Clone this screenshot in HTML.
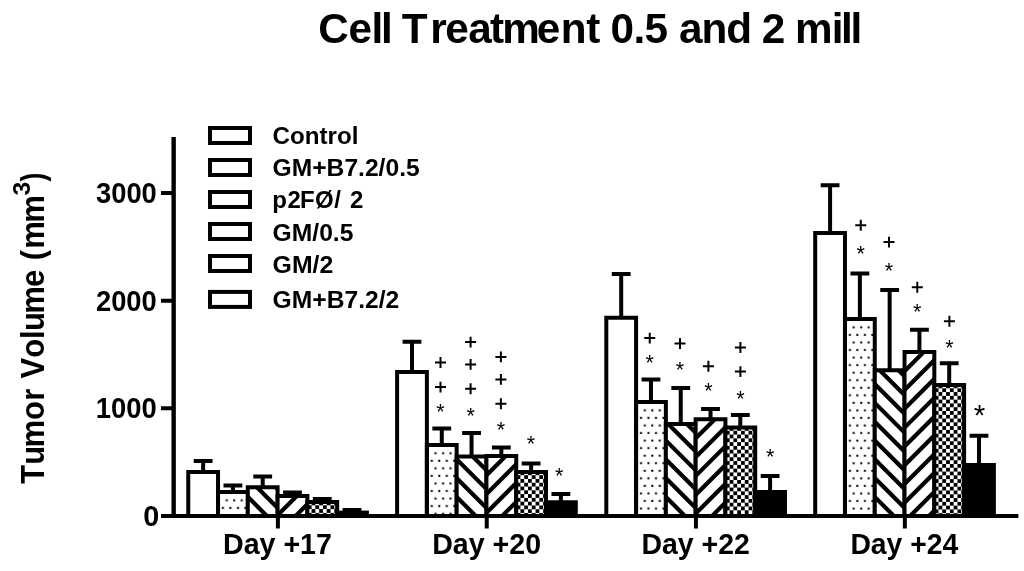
<!DOCTYPE html>
<html><head><meta charset="utf-8"><title>Cell Treatment 0.5 and 2 mill</title>
<style>
html,body{margin:0;padding:0;background:#fff;}
body{width:1024px;height:571px;overflow:hidden;}
svg{display:block;filter:grayscale(1);}
text{font-family:"Liberation Sans",sans-serif;fill:#000;font-kerning:none;white-space:pre;}
.b{font-weight:bold;}
</style></head><body>
<svg width="1024" height="571" viewBox="0 0 1024 571">
<rect x="0" y="0" width="1024" height="571" fill="#fff"/>
<defs><pattern id="d0" x="218.03" y="492" width="7.5" height="15.1" patternUnits="userSpaceOnUse"><rect width="7.5" height="15.1" fill="#fff"/><rect x="3.9" y="-0.2" width="2" height="2" fill="#000"/><rect x="3.9" y="14.9" width="2" height="2" fill="#000"/><rect x="0.2" y="7.35" width="2" height="2" fill="#000"/></pattern><clipPath id="k1"><rect x="248.81" y="488.25" width="27.78" height="27.75"/></clipPath><clipPath id="k2"><rect x="278.59" y="497" width="27.78" height="19"/></clipPath><pattern id="c0" x="311.57" y="505.3" width="7.57" height="7.57" patternUnits="userSpaceOnUse"><rect width="7.57" height="7.57" fill="#fff"/><rect x="3.785" y="0" width="3.785" height="3.785" fill="#000"/><rect x="0" y="3.785" width="3.785" height="3.785" fill="#000"/></pattern><pattern id="d1" x="426.88" y="444.9" width="7.5" height="15.1" patternUnits="userSpaceOnUse"><rect width="7.5" height="15.1" fill="#fff"/><rect x="3.9" y="-0.2" width="2" height="2" fill="#000"/><rect x="3.9" y="14.9" width="2" height="2" fill="#000"/><rect x="0.2" y="7.35" width="2" height="2" fill="#000"/></pattern><clipPath id="k3"><rect x="457.66" y="457.6" width="27.78" height="58.4"/></clipPath><clipPath id="k4"><rect x="487.44" y="457.1" width="27.78" height="58.9"/></clipPath><pattern id="c1" x="520.42" y="475.2" width="7.57" height="7.57" patternUnits="userSpaceOnUse"><rect width="7.57" height="7.57" fill="#fff"/><rect x="3.785" y="0" width="3.785" height="3.785" fill="#000"/><rect x="0" y="3.785" width="3.785" height="3.785" fill="#000"/></pattern><pattern id="d2" x="636.08" y="402" width="7.5" height="15.1" patternUnits="userSpaceOnUse"><rect width="7.5" height="15.1" fill="#fff"/><rect x="3.9" y="-0.2" width="2" height="2" fill="#000"/><rect x="3.9" y="14.9" width="2" height="2" fill="#000"/><rect x="0.2" y="7.35" width="2" height="2" fill="#000"/></pattern><clipPath id="k5"><rect x="666.86" y="425" width="27.78" height="91"/></clipPath><clipPath id="k6"><rect x="696.64" y="420.2" width="27.78" height="95.8"/></clipPath><pattern id="c2" x="729.62" y="430.8" width="7.57" height="7.57" patternUnits="userSpaceOnUse"><rect width="7.57" height="7.57" fill="#fff"/><rect x="3.785" y="0" width="3.785" height="3.785" fill="#000"/><rect x="0" y="3.785" width="3.785" height="3.785" fill="#000"/></pattern><pattern id="d3" x="844.98" y="319" width="7.5" height="15.1" patternUnits="userSpaceOnUse"><rect width="7.5" height="15.1" fill="#fff"/><rect x="3.9" y="-0.2" width="2" height="2" fill="#000"/><rect x="3.9" y="14.9" width="2" height="2" fill="#000"/><rect x="0.2" y="7.35" width="2" height="2" fill="#000"/></pattern><clipPath id="k7"><rect x="875.76" y="371.2" width="27.78" height="144.8"/></clipPath><clipPath id="k8"><rect x="905.54" y="353" width="27.78" height="163"/></clipPath><pattern id="c3" x="938.52" y="388.3" width="7.57" height="7.57" patternUnits="userSpaceOnUse"><rect width="7.57" height="7.57" fill="#fff"/><rect x="3.785" y="0" width="3.785" height="3.785" fill="#000"/><rect x="0" y="3.785" width="3.785" height="3.785" fill="#000"/></pattern></defs>
<text class="b" transform="translate(0 43.1) scale(1 1.0150)" font-size="42.3" x="318.27 348.6 371.45 381.05 393 401.77 430.31 445.25 468.16 490.08 502.21 536.65 560.71 586.38 600 610.58 633.53 644.5 668 679.01 701.61 726.37 750 761.63 786 795.11 831.65 841.05 850.55">Cell Treatment 0.5 and 2 mill</text>
<g transform="translate(43.5 483.5) rotate(-90)">
<text class="b" transform="translate(0 0) scale(1 1.0420)" font-size="31" x="-0.35 18.68 36.06 63.49 82.86 96 104.99 125.69 144.44 152.38 169.76 196.49 214 223.36 234.76 260.66">Tumor Volume (mm</text>
<text class="b" transform="translate(287.93 -13.3) scale(1 0.9861)" font-size="24.74">3</text>
<text class="b" transform="translate(301.97 0) scale(1 1.2414)" font-size="26.93">)</text>
</g>
<text class="b" transform="translate(95.97 202.68) scale(1 1.0725)" font-size="27.35">3000</text>
<text class="b" transform="translate(95.95 310.58) scale(1 1.0792)" font-size="27.32">2000</text>
<text class="b" transform="translate(95.77 418.42) scale(1 1.0939)" font-size="27.4">1000</text>
<text class="b" transform="translate(143.26 525.58) scale(1 1.0233)" font-size="28.81">0</text>
<path d="M193.74 461H212.54M203.14 461V472" stroke="#000" stroke-width="4" fill="none"/>
<rect x="189.25" y="473" width="27.78" height="43" fill="#fff"/>
<path d="M188.25 516V472H218.03V516" stroke="#000" stroke-width="4" fill="none" stroke-linejoin="miter"/>
<path d="M223.52 485.4H242.32M232.92 485.4V492" stroke="#000" stroke-width="4" fill="none"/>
<rect x="221.03" y="493" width="25.78" height="23" fill="url(#d0)"/>
<path d="M218.03 516V492H247.81V516" stroke="#000" stroke-width="4" fill="none" stroke-linejoin="miter"/>
<path d="M253.3 476.4H272.1M262.7 476.4V487.25" stroke="#000" stroke-width="4" fill="none"/>
<rect x="248.81" y="488.25" width="27.78" height="27.75" fill="#fff"/>
<path clip-path="url(#k1)" d="M243.81 455.3L281.59 493.08M243.81 474.1L281.59 511.88M243.81 492.9L281.59 530.68M243.81 511.7L281.59 549.48" stroke="#000" stroke-width="4.2" fill="none"/>
<path d="M247.81 516V487.25H277.59V516" stroke="#000" stroke-width="4" fill="none" stroke-linejoin="miter"/>
<path d="M283.08 492.6H301.88M292.48 492.6V496" stroke="#000" stroke-width="4" fill="none"/>
<rect x="278.59" y="497" width="27.78" height="19" fill="#fff"/>
<path clip-path="url(#k2)" d="M273.59 500.4L311.37 462.62M273.59 519.2L311.37 481.42M273.59 538L311.37 500.22M273.59 556.8L311.37 519.02" stroke="#000" stroke-width="4.2" fill="none"/>
<path d="M277.59 516V496H307.37V516" stroke="#000" stroke-width="4" fill="none" stroke-linejoin="miter"/>
<path d="M312.86 498.9H331.66M322.26 498.9V502" stroke="#000" stroke-width="4" fill="none"/>
<rect x="308.37" y="503" width="27.78" height="13" fill="url(#c0)"/>
<path d="M307.37 516V502H337.15V516" stroke="#000" stroke-width="4" fill="none" stroke-linejoin="miter"/>
<path d="M342.64 510.1H361.44M352.04 510.1V511.6" stroke="#000" stroke-width="4" fill="none"/>
<rect x="335.15" y="510.6" width="33.78" height="5.4" fill="#000"/>
<path d="M402.59 341.7H421.39M411.99 341.7V372" stroke="#000" stroke-width="4" fill="none"/>
<rect x="398.1" y="373" width="27.78" height="143" fill="#fff"/>
<path d="M397.1 516V372H426.88V516" stroke="#000" stroke-width="4" fill="none" stroke-linejoin="miter"/>
<path d="M432.37 428.4H451.17M441.77 428.4V444.9" stroke="#000" stroke-width="4" fill="none"/>
<rect x="429.88" y="445.9" width="25.78" height="70.1" fill="url(#d1)"/>
<path d="M426.88 516V444.9H456.66V516" stroke="#000" stroke-width="4" fill="none" stroke-linejoin="miter"/>
<path d="M462.15 433.1H480.95M471.55 433.1V456.6" stroke="#000" stroke-width="4" fill="none"/>
<rect x="457.66" y="457.6" width="27.78" height="58.4" fill="#fff"/>
<path clip-path="url(#k3)" d="M452.66 417.7L490.44 455.48M452.66 436.5L490.44 474.28M452.66 455.3L490.44 493.08M452.66 474.1L490.44 511.88M452.66 492.9L490.44 530.68M452.66 511.7L490.44 549.48" stroke="#000" stroke-width="4.2" fill="none"/>
<path d="M456.66 516V456.6H486.44V516" stroke="#000" stroke-width="4" fill="none" stroke-linejoin="miter"/>
<path d="M491.93 447.5H510.73M501.33 447.5V456.1" stroke="#000" stroke-width="4" fill="none"/>
<rect x="487.44" y="457.1" width="27.78" height="58.9" fill="#fff"/>
<path clip-path="url(#k4)" d="M482.44 460.5L520.22 422.72M482.44 479.3L520.22 441.52M482.44 498.1L520.22 460.32M482.44 516.9L520.22 479.12M482.44 535.7L520.22 497.92M482.44 554.5L520.22 516.72" stroke="#000" stroke-width="4.2" fill="none"/>
<path d="M486.44 516V456.1H516.22V516" stroke="#000" stroke-width="4" fill="none" stroke-linejoin="miter"/>
<path d="M521.71 463.4H540.51M531.11 463.4V471.9" stroke="#000" stroke-width="4" fill="none"/>
<rect x="517.22" y="472.9" width="27.78" height="43.1" fill="url(#c1)"/>
<path d="M516.22 516V471.9H546V516" stroke="#000" stroke-width="4" fill="none" stroke-linejoin="miter"/>
<path d="M551.49 494H570.29M560.89 494V501.25" stroke="#000" stroke-width="4" fill="none"/>
<rect x="544" y="500.25" width="33.78" height="15.75" fill="#000"/>
<path d="M611.79 274H630.59M621.19 274V317.7" stroke="#000" stroke-width="4" fill="none"/>
<rect x="607.3" y="318.7" width="27.78" height="197.3" fill="#fff"/>
<path d="M606.3 516V317.7H636.08V516" stroke="#000" stroke-width="4" fill="none" stroke-linejoin="miter"/>
<path d="M641.57 379.4H660.37M650.97 379.4V402" stroke="#000" stroke-width="4" fill="none"/>
<rect x="639.08" y="403" width="25.78" height="113" fill="url(#d2)"/>
<path d="M636.08 516V402H665.86V516" stroke="#000" stroke-width="4" fill="none" stroke-linejoin="miter"/>
<path d="M671.35 388H690.15M680.75 388V424" stroke="#000" stroke-width="4" fill="none"/>
<rect x="666.86" y="425" width="27.78" height="91" fill="#fff"/>
<path clip-path="url(#k5)" d="M661.86 398.9L699.64 436.68M661.86 417.7L699.64 455.48M661.86 436.5L699.64 474.28M661.86 455.3L699.64 493.08M661.86 474.1L699.64 511.88M661.86 492.9L699.64 530.68M661.86 511.7L699.64 549.48" stroke="#000" stroke-width="4.2" fill="none"/>
<path d="M665.86 516V424H695.64V516" stroke="#000" stroke-width="4" fill="none" stroke-linejoin="miter"/>
<path d="M701.13 409H719.93M710.53 409V419.2" stroke="#000" stroke-width="4" fill="none"/>
<rect x="696.64" y="420.2" width="27.78" height="95.8" fill="#fff"/>
<path clip-path="url(#k6)" d="M691.64 423.6L729.42 385.82M691.64 442.4L729.42 404.62M691.64 461.2L729.42 423.42M691.64 480L729.42 442.22M691.64 498.8L729.42 461.02M691.64 517.6L729.42 479.82M691.64 536.4L729.42 498.62M691.64 555.2L729.42 517.42" stroke="#000" stroke-width="4.2" fill="none"/>
<path d="M695.64 516V419.2H725.42V516" stroke="#000" stroke-width="4" fill="none" stroke-linejoin="miter"/>
<path d="M730.91 415.1H749.71M740.31 415.1V427.5" stroke="#000" stroke-width="4" fill="none"/>
<rect x="726.42" y="428.5" width="27.78" height="87.5" fill="url(#c2)"/>
<path d="M725.42 516V427.5H755.2V516" stroke="#000" stroke-width="4" fill="none" stroke-linejoin="miter"/>
<path d="M760.69 476H779.49M770.09 476V491" stroke="#000" stroke-width="4" fill="none"/>
<rect x="753.2" y="490" width="33.78" height="26" fill="#000"/>
<path d="M820.69 185.3H839.49M830.09 185.3V233" stroke="#000" stroke-width="4" fill="none"/>
<rect x="816.2" y="234" width="27.78" height="282" fill="#fff"/>
<path d="M815.2 516V233H844.98V516" stroke="#000" stroke-width="4" fill="none" stroke-linejoin="miter"/>
<path d="M850.47 273.6H869.27M859.87 273.6V319" stroke="#000" stroke-width="4" fill="none"/>
<rect x="847.98" y="320" width="25.78" height="196" fill="url(#d3)"/>
<path d="M844.98 516V319H874.76V516" stroke="#000" stroke-width="4" fill="none" stroke-linejoin="miter"/>
<path d="M880.25 290H899.05M889.65 290V370.2" stroke="#000" stroke-width="4" fill="none"/>
<rect x="875.76" y="371.2" width="27.78" height="144.8" fill="#fff"/>
<path clip-path="url(#k7)" d="M870.76 342.5L908.54 380.28M870.76 361.3L908.54 399.08M870.76 380.1L908.54 417.88M870.76 398.9L908.54 436.68M870.76 417.7L908.54 455.48M870.76 436.5L908.54 474.28M870.76 455.3L908.54 493.08M870.76 474.1L908.54 511.88M870.76 492.9L908.54 530.68M870.76 511.7L908.54 549.48" stroke="#000" stroke-width="4.2" fill="none"/>
<path d="M874.76 516V370.2H904.54V516" stroke="#000" stroke-width="4" fill="none" stroke-linejoin="miter"/>
<path d="M910.03 329.8H928.83M919.43 329.8V352" stroke="#000" stroke-width="4" fill="none"/>
<rect x="905.54" y="353" width="27.78" height="163" fill="#fff"/>
<path clip-path="url(#k8)" d="M900.54 356.4L938.32 318.62M900.54 375.2L938.32 337.42M900.54 394L938.32 356.22M900.54 412.8L938.32 375.02M900.54 431.6L938.32 393.82M900.54 450.4L938.32 412.62M900.54 469.2L938.32 431.42M900.54 488L938.32 450.22M900.54 506.8L938.32 469.02M900.54 525.6L938.32 487.82M900.54 544.4L938.32 506.62" stroke="#000" stroke-width="4.2" fill="none"/>
<path d="M904.54 516V352H934.32V516" stroke="#000" stroke-width="4" fill="none" stroke-linejoin="miter"/>
<path d="M939.81 363.3H958.61M949.21 363.3V385" stroke="#000" stroke-width="4" fill="none"/>
<rect x="935.32" y="386" width="27.78" height="130" fill="url(#c3)"/>
<path d="M934.32 516V385H964.1V516" stroke="#000" stroke-width="4" fill="none" stroke-linejoin="miter"/>
<path d="M969.59 435.8H988.39M978.99 435.8V464" stroke="#000" stroke-width="4" fill="none"/>
<rect x="962.1" y="463" width="33.78" height="53" fill="#000"/>
<path d="M173.65 137V518" stroke="#000" stroke-width="4.4" fill="none"/>
<path d="M161 193H173M161 300.8H173M161 408.3H173M161 516H1018.4" stroke="#000" stroke-width="4.1" fill="none"/>
<path d="M277.89 517V528.5" stroke="#000" stroke-width="4" fill="none"/>
<text class="b" transform="translate(222.99 554.1) scale(1 1.0414)" font-size="28.61">Day +17</text>
<path d="M486.74 517V528.5" stroke="#000" stroke-width="4" fill="none"/>
<text class="b" transform="translate(432.19 554.1) scale(1 1.0422)" font-size="28.59">Day +20</text>
<path d="M695.94 517V528.5" stroke="#000" stroke-width="4" fill="none"/>
<text class="b" transform="translate(641.4 554.1) scale(1 1.0465)" font-size="28.47">Day +22</text>
<path d="M904.84 517V528.5" stroke="#000" stroke-width="4" fill="none"/>
<text class="b" transform="translate(850.41 554.1) scale(1 1.0523)" font-size="28.32">Day +24</text>
<rect x="210" y="128" width="40" height="15" fill="#fff" stroke="#000" stroke-width="4"/>
<text class="b" transform="translate(272.61 144.4) scale(1 1.0105)" font-size="24.17">Control</text>
<rect x="210" y="160" width="40" height="15" fill="#fff" stroke="#000" stroke-width="4"/>
<text class="b" transform="translate(272.59 176.4) scale(1 0.9919)" font-size="24.62">GM+B7.2/0.5</text>
<rect x="210" y="192" width="40" height="15" fill="#fff" stroke="#000" stroke-width="4"/>
<text class="b" transform="translate(0 208) scale(1 1.0170)" font-size="24" x="272.32 287.47 299.99 315.12 334.17 343 349.97">p2FØ/ 2</text>
<rect x="210" y="224" width="40" height="15" fill="#fff" stroke="#000" stroke-width="4"/>
<text class="b" transform="translate(272.59 240.9) scale(1 0.9897)" font-size="24.67">GM/0.5</text>
<rect x="210" y="256" width="40" height="15" fill="#fff" stroke="#000" stroke-width="4"/>
<text class="b" transform="translate(272.58 272.8) scale(1 0.9833)" font-size="24.83">GM/2</text>
<rect x="210" y="291.9" width="40" height="15" fill="#fff" stroke="#000" stroke-width="4"/>
<text class="b" transform="translate(272.59 308.3) scale(1 0.9901)" font-size="24.66">GM+B7.2/2</text>
<path d="M435 362.5H446M440.5 357.1V367.9" stroke="#000" stroke-width="2" fill="none"/>
<path d="M435 387.1H446M440.5 381.7V392.5" stroke="#000" stroke-width="2" fill="none"/>
<text x="440.5" y="418.55" font-size="21.5" text-anchor="middle">*</text>
<path d="M465.1 342.1H476.1M470.6 336.7V347.5" stroke="#000" stroke-width="2" fill="none"/>
<path d="M465.1 364.4H476.1M470.6 359V369.8" stroke="#000" stroke-width="2" fill="none"/>
<path d="M465.1 388.75H476.1M470.6 383.35V394.15" stroke="#000" stroke-width="2" fill="none"/>
<text x="470.6" y="422.55" font-size="21.5" text-anchor="middle">*</text>
<path d="M495.4 356.9H506.4M500.9 351.5V362.3" stroke="#000" stroke-width="2" fill="none"/>
<path d="M495.4 379.4H506.4M500.9 374V384.8" stroke="#000" stroke-width="2" fill="none"/>
<path d="M495.4 403.75H506.4M500.9 398.35V409.15" stroke="#000" stroke-width="2" fill="none"/>
<text x="500.9" y="437.35" font-size="21.5" text-anchor="middle">*</text>
<text x="530.9" y="451.05" font-size="21.5" text-anchor="middle">*</text>
<text x="559.1" y="483.35" font-size="21.5" text-anchor="middle">*</text>
<path d="M644.25 338.1H655.25M649.75 332.7V343.5" stroke="#000" stroke-width="2" fill="none"/>
<text x="649.75" y="370.05" font-size="21.5" text-anchor="middle">*</text>
<path d="M674.5 343.5H685.5M680 338.1V348.9" stroke="#000" stroke-width="2" fill="none"/>
<text x="680" y="377.35" font-size="21.5" text-anchor="middle">*</text>
<path d="M702.9 366.25H713.9M708.4 360.85V371.65" stroke="#000" stroke-width="2" fill="none"/>
<text x="708.4" y="397.95" font-size="21.5" text-anchor="middle">*</text>
<path d="M734.9 347.5H745.9M740.4 342.1V352.9" stroke="#000" stroke-width="2" fill="none"/>
<path d="M734.9 371.6H745.9M740.4 366.2V377" stroke="#000" stroke-width="2" fill="none"/>
<text x="740.4" y="406.05" font-size="21.5" text-anchor="middle">*</text>
<text x="770.25" y="464.45" font-size="21.5" text-anchor="middle">*</text>
<path d="M855.25 225.25H866.25M860.75 219.85V230.65" stroke="#000" stroke-width="2" fill="none"/>
<text x="860.75" y="260.7" font-size="21.5" text-anchor="middle">*</text>
<path d="M883.5 242.1H894.5M889 236.7V247.5" stroke="#000" stroke-width="2" fill="none"/>
<text x="889" y="277.95" font-size="21.5" text-anchor="middle">*</text>
<path d="M911.8 287.25H922.8M917.3 281.85V292.65" stroke="#000" stroke-width="2" fill="none"/>
<text x="917.3" y="319.2" font-size="21.5" text-anchor="middle">*</text>
<path d="M943.9 321.25H954.9M949.4 315.85V326.65" stroke="#000" stroke-width="2" fill="none"/>
<text x="949.4" y="355.45" font-size="21.5" text-anchor="middle">*</text>
<text x="979.5" y="425.06" font-size="29.67" text-anchor="middle">*</text>
</svg></body></html>
